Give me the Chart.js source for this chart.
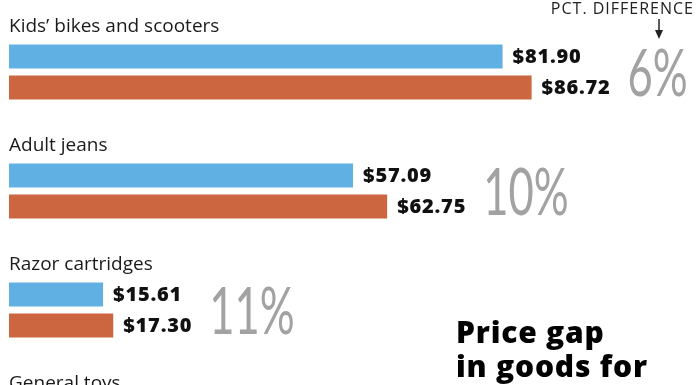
<!doctype html>
<html lang="en">
<head>
    <meta charset="utf-8">
    <title>Price gap in goods</title>
    <script src="https://cdn.jsdelivr.net/npm/chart.js"></script>
    <style>
        html, body { margin: 0; padding: 0; background: #fff; overflow: hidden; }
        body { width: 696px; height: 385px; position: relative; }
        #wrap { position: absolute; left: 0; top: -3px; width: 696px; height: 476px; }
    </style>
</head>
<body>

<div id="wrap">
    <canvas id="myChart"></canvas>
</div>

<script>
    const categories = [
        'Kids\u2019 bikes and scooters',
        'Adult jeans',
        'Razor cartridges',
        'General toys'
    ];
    // blue = boys/men, orange = girls/women (prices in $)
    const bluePrices = [81.90, 57.09, 15.61, null];
    const orangePrices = [86.72, 62.75, 17.30, null];
    const pctDiff = ['6%', '10%', '11%', null];

    const blue = '#60b0e4';
    const orange = '#cc6640';

    const labelsPlugin = {
        id: 'labels',
        afterDatasetsDraw(chart) {
            const ctx = chart.ctx;
            const y = chart.scales.y;
            const metaB = chart.getDatasetMeta(1);
            const metaO = chart.getDatasetMeta(2);
            ctx.save();
            for (let i = 0; i < categories.length; i++) {
                const c = y.getPixelForValue(i);
                // category title sits in the empty first slot
                ctx.fillStyle = '#1a1a1a';
                ctx.font = '19px "Open Sans"';
                ctx.letterSpacing = '0px';
                ctx.textBaseline = 'middle';
                ctx.textAlign = 'left';
                ctx.fillText(categories[i], 9, c - 30);

                if (bluePrices[i] == null) continue;
                const b = metaB.data[i], o = metaO.data[i];
                ctx.font = '800 20px "Open Sans"';
                ctx.letterSpacing = '0.8px';
                ctx.fillStyle = '#111';
                const tb = '$' + bluePrices[i].toFixed(2);
                const to = '$' + orangePrices[i].toFixed(2);
                ctx.fillText(tb, b.x + 10, b.y + 1);
                ctx.fillText(to, o.x + 10, o.y + 1);
                const end = Math.max(b.x + 10 + ctx.measureText(tb).width, o.x + 10 + ctx.measureText(to).width);

                // big condensed percent difference
                ctx.save();
                ctx.letterSpacing = '0px';
                ctx.fillStyle = '#a2a2a2';
                ctx.font = '400 66px Lato';
                ctx.textBaseline = 'alphabetic';
                ctx.translate(end + 17, (b.y + o.y) / 2 + 24);
                ctx.scale(0.66, 1);
                ctx.fillText(pctDiff[i], 0, 0);
                ctx.restore();
            }

            // header note with arrow (canvas sits 3px above the page top)
            ctx.fillStyle = '#222';
            ctx.font = '16px "Open Sans"';
            ctx.letterSpacing = '1px';
            ctx.textAlign = 'right';
            ctx.textBaseline = 'alphabetic';
            ctx.fillText('PCT. DIFFERENCE', 694, 17);
            ctx.strokeStyle = '#222';
            ctx.lineWidth = 1.5;
            ctx.beginPath();
            ctx.moveTo(659, 22);
            ctx.lineTo(659, 35);
            ctx.stroke();
            ctx.beginPath();
            ctx.moveTo(655, 33);
            ctx.lineTo(663, 33);
            ctx.lineTo(659, 42);
            ctx.closePath();
            ctx.fillStyle = '#222';
            ctx.fill();

            // headline
            ctx.fillStyle = '#000';
            ctx.textAlign = 'left';
            ctx.font = '800 30px "Open Sans"';
            ctx.letterSpacing = '0.8px';
            ctx.fillText('Price gap', 456, 346);
            ctx.fillText('in goods for', 456, 380);
            ctx.restore();
        }
    };

    const myChart = new Chart(document.getElementById('myChart'), {
        type: 'bar',
        data: {
            labels: categories,
            datasets: [
                {label: '', data: categories.map(() => null)},
                {label: 'Boys/men', data: bluePrices, backgroundColor: blue},
                {label: 'Girls/women', data: orangePrices, backgroundColor: orange}
            ]
        },
        options: {
            indexAxis: 'y',
            responsive: true,
            maintainAspectRatio: false,
            animation: false,
            barPercentage: 0.774,
            categoryPercentage: 0.78,
            layout: {padding: {left: 9, right: 0, top: 0, bottom: 0}},
            plugins: {legend: {display: false}, tooltip: {enabled: false}},
            scales: {
                x: {display: false, min: 0, max: 114},
                y: {display: false}
            }
        },
        plugins: [labelsPlugin]
    });
</script>

</body>
</html>
